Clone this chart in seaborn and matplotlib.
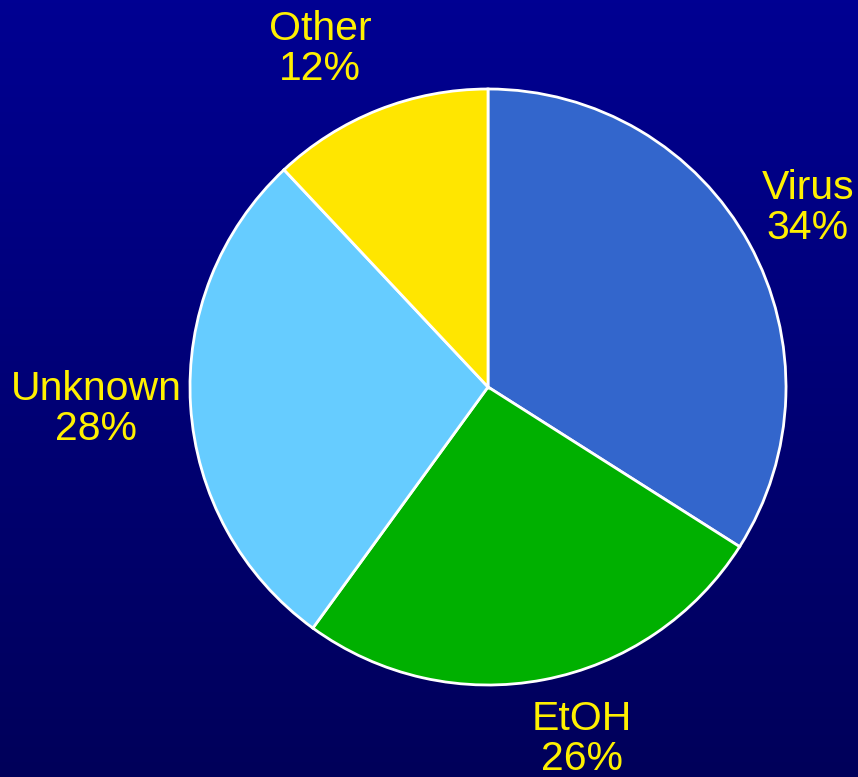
import numpy as np
import matplotlib
matplotlib.use("Agg")
import matplotlib.pyplot as plt
import seaborn as sns
from matplotlib.colors import LinearSegmentedColormap

# Causes and their shares (percent)
causes = ["Virus", "EtOH", "Unknown", "Other"]
shares = [34, 26, 28, 12]
slice_colors = ["#3366CC", "#00B000", "#66CCFF", "#FFE600"]

sns.set_theme(style="white")
plt.rcParams["font.family"] = ["Liberation Sans", "DejaVu Sans"]

W, H = 858, 777
fig = plt.figure(figsize=(W / 100, H / 100), dpi=100)

# Vertical blue gradient backdrop
bg = fig.add_axes([0, 0, 1, 1])
grad = np.linspace(0, 1, 256).reshape(-1, 1)
cmap = LinearSegmentedColormap.from_list("bg", ["#000092", "#00005A"])
bg.imshow(grad, aspect="auto", cmap=cmap, extent=[0, 1, 0, 1], origin="upper")
bg.set_axis_off()

ax = fig.add_axes([0, 0, 1, 1])
ax.set_xlim(0, W)
ax.set_ylim(0, H)
ax.set_aspect("equal")
ax.set_axis_off()
ax.patch.set_alpha(0)

center = (488, H - 387)
radius = 298
ax.pie(shares, colors=sns.color_palette(slice_colors), startangle=90,
       counterclock=False, center=center, radius=radius,
       wedgeprops=dict(edgecolor="white", linewidth=2))
ax.set_xlim(0, W)
ax.set_ylim(0, H)

label_pos = {"Virus": (808, 208), "EtOH": (582, 739),
             "Unknown": (96, 409), "Other": (320, 49)}
for name, val in zip(causes, shares):
    x, y = label_pos[name]
    ax.text(x, H - y, f"{name}\n{val}%", ha="center", va="center",
            color="#FFF000", fontsize=29.5, linespacing=1.08)

fig.savefig("out.png", dpi=100)
